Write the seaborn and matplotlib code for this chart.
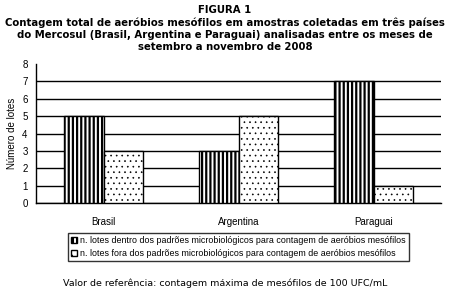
import pandas as pd
import matplotlib
matplotlib.use("Agg")
import matplotlib.pyplot as plt
import seaborn as sns
from matplotlib.patches import Patch

paises = ["Brasil", "Argentina", "Paraguai"]
dentro = [5, 3, 7]
fora = [3, 5, 1]
serie_dentro = "n. lotes dentro dos padrões microbiológicos para contagem de aeróbios mesófilos"
serie_fora = "n. lotes fora dos padrões microbiológicos para contagem de aeróbios mesófilos"
titulo = ("FIGURA 1\nContagem total de aeróbios mesófilos em amostras coletadas em três países\n"
          "do Mercosul (Brasil, Argentina e Paraguai) analisadas entre os meses de\n"
          "setembro a novembro de 2008")
rodape = "Valor de referência: contagem máxima de mesófilos de 100 UFC/mL"

df = pd.DataFrame({
    "pais": paises * 2,
    "lotes": dentro + fora,
    "tipo": [serie_dentro] * 3 + [serie_fora] * 3,
})

sns.set_style("white")
plt.rcParams["font.family"] = ["Liberation Sans", "DejaVu Sans"]
plt.rcParams["text.color"] = "black"
plt.rcParams["axes.labelcolor"] = "black"
plt.rcParams["xtick.color"] = "black"
plt.rcParams["ytick.color"] = "black"
plt.rcParams["hatch.linewidth"] = 1.6
plt.rcParams["hatch.color"] = "black"

fig = plt.figure(figsize=(4.5, 2.97), dpi=100)
ax = fig.add_axes([0.08, 0.3165, 0.9, 0.468])

sns.barplot(data=df, x="pais", y="lotes", hue="tipo", ax=ax, width=0.58,
            palette=["white", "white"], edgecolor="black", linewidth=1,
            legend=False, zorder=3)
hatches = ["||||", "..."]
hatch_lw = [1.6, 0.45]
for cont, h, lw in zip(ax.containers, hatches, hatch_lw):
    for bar in cont:
        bar.set_hatch(h)
        if hasattr(bar, "set_hatch_linewidth"):
            bar.set_hatch_linewidth(lw)

ax.set_xlim(-0.5, 2.5)
ax.set_ylim(0, 8)
ax.set_yticks(range(0, 9))
ax.yaxis.grid(True, color="black", linewidth=1, zorder=0)
ax.yaxis.get_gridlines()[-1].set_visible(False)
ax.set_axisbelow(True)
for s in ["top", "right"]:
    ax.spines[s].set_visible(False)
for s in ["left", "bottom"]:
    ax.spines[s].set_color("black")
    ax.spines[s].set_linewidth(1)

ax.set_xticks([-0.5, 0.5, 1.5, 2.5], minor=True)
ax.tick_params(axis="x", which="major", length=0, labelsize=7, pad=10)
ax.tick_params(axis="x", which="minor", length=4, width=1, color="black", direction="out")
ax.tick_params(axis="y", length=4, width=1, color="black", direction="out", labelsize=7, pad=2)
ax.set_xlabel("")
ax.set_ylabel("Número de lotes", fontsize=7, labelpad=4)

fig.text(0.5, 0.983, titulo, ha="center", va="top", fontsize=7.3, fontweight="bold",
         family="DejaVu Sans", linespacing=1.26)

handles = [Patch(facecolor="white", edgecolor="black", hatch="||||"),
           Patch(facecolor="white", edgecolor="black", hatch="...")]
leg = fig.legend(handles, [serie_dentro, serie_fora], loc="center",
                 bbox_to_anchor=(0.53, 0.168), fontsize=6.4, frameon=True,
                 fancybox=False, handlelength=0.7, handleheight=0.7,
                 handletextpad=0.3, borderpad=0.35, labelspacing=0.45)
leg.get_frame().set_edgecolor("black")
leg.get_frame().set_linewidth(1)
for hp, lw in zip(leg.get_patches(), hatch_lw):
    if hasattr(hp, "set_hatch_linewidth"):
        hp.set_hatch_linewidth(lw)

fig.text(0.5, 0.047, rodape, ha="center", va="center", fontsize=6.8, family="DejaVu Sans")

fig.savefig("out.png", dpi=100)
